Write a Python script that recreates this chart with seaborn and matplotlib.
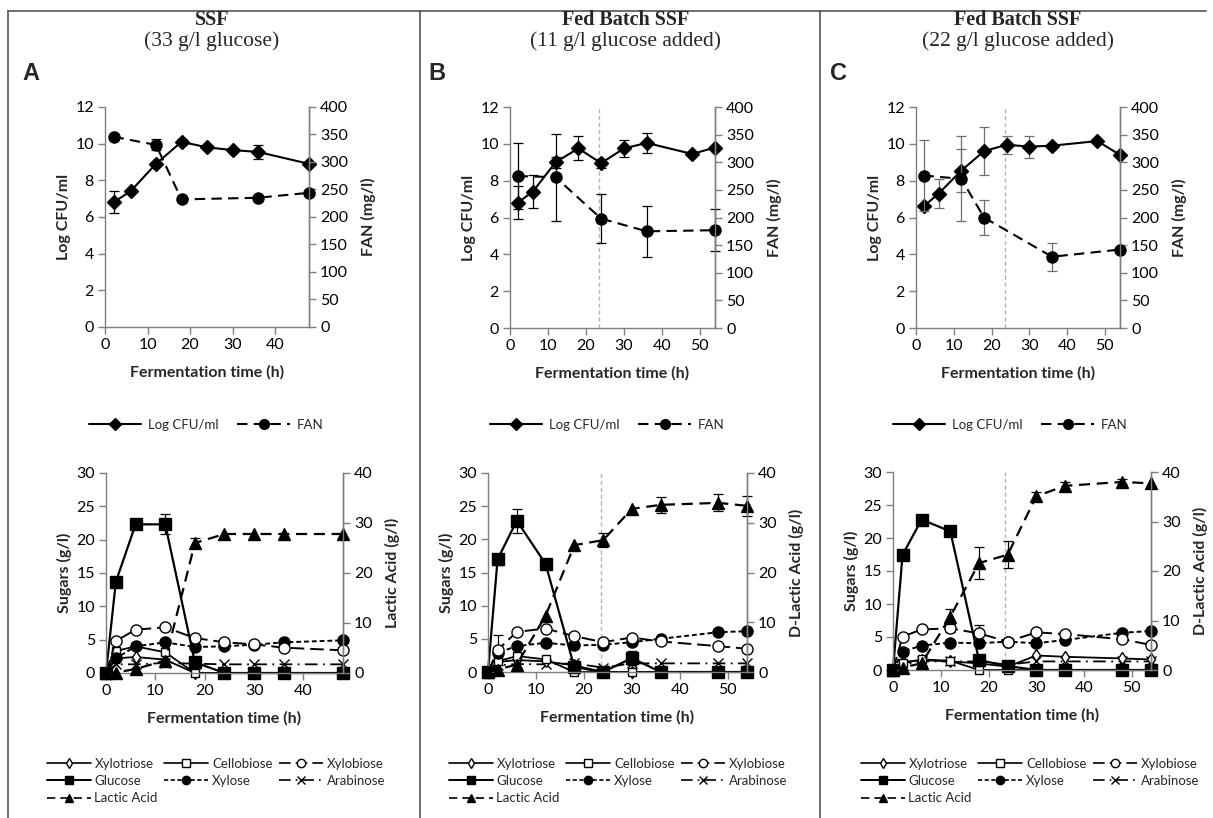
import matplotlib
matplotlib.use('Agg')
import matplotlib.pyplot as plt
from matplotlib.lines import Line2D
import seaborn as sns

sns.set_theme(style='white')
plt.rcParams['font.family'] = ['Lato', 'DejaVu Sans']

W, H = 1213, 818

# ---------------- data ----------------
panel_letters = ['A', 'B', 'C']
panel_titles = ['SSF', 'Fed Batch SSF', 'Fed Batch SSF']
panel_subtitles = ['(33 g/l glucose)', '(11 g/l glucose added)', '(22 g/l glucose added)']
acid_labels = ['Lactic Acid (g/l)', 'D-Lactic Acid (g/l)', 'D-Lactic Acid (g/l)']
x_max = [48, 54, 54]
feed_time = [None, 23.5, 23.5]

# top row: Log CFU/ml and FAN
cfu_time = [[2, 6, 12, 18, 24, 30, 36, 48],
            [2, 6, 12, 18, 24, 30, 36, 48, 54],
            [2, 6, 12, 18, 24, 30, 36, 48, 54]]
cfu = [[6.8, 7.4, 8.9, 10.1, 9.8, 9.65, 9.55, 8.9],
       [6.8, 7.4, 9.0, 9.75, 8.95, 9.75, 10.05, 9.45, 9.8],
       [6.6, 7.3, 8.55, 9.6, 9.95, 9.85, 9.9, 10.15, 9.4]]
cfu_err = [[0.6, 0, 0, 0.15, 0, 0, 0.4, 0],
           [0.9, 0.9, 0.3, 0.65, 0.25, 0.45, 0.55, 0, 0],
           [0.1, 0.8, 1.15, 1.3, 0.5, 0.6, 0, 0, 0]]
fan_time = [[2, 12, 18, 36, 48],
            [2, 12, 24, 36, 54],
            [2, 12, 18, 36, 54]]
fan = [[346, 331, 232, 235, 244],
       [275, 273, 198, 175, 177],
       [276, 270, 200, 129, 142]]
fan_err = [[0, 10, 0, 0, 0],
           [60, 79, 44, 46, 38],
           [64, 77, 31, 25, 0]]

# bottom row: sugars (g/l) and lactic acid (g/l)
sugar_time = [[0, 2, 6, 12, 18, 24, 30, 36, 48],
              [0, 2, 6, 12, 18, 24, 30, 36, 48, 54],
              [0, 2, 6, 12, 18, 24, 30, 36, 48, 54]]
xylotriose = [[0, 2.2, 2.4, 2.0, 0, 0, 0, 0, 0],
              [0, 1.5, 1.8, 1.6, 1.0, 0, 0, 0, 0, 0],
              [0, 1.2, 1.5, 1.3, 1.0, 0.5, 2.2, 2.0, 1.75, 1.6]]
cellobiose = [[0, 3.3, 4.0, 3.1, 0, 0, 0, 0, 0],
              [0, 1.6, 2.4, 1.9, 0, 0, 0, 0, 0, 0],
              [0, 1.0, 1.6, 1.4, 0, 0, 0, 0, 0, 0]]
xylobiose = [[0, 4.8, 6.5, 6.85, 5.25, 4.6, 4.3, 3.8, 3.4],
             [0, 3.3, 6.05, 6.55, 5.4, 4.5, 5.2, 4.6, 3.9, 3.5],
             [0, 5.05, 6.15, 6.3, 5.55, 4.3, 5.7, 5.45, 4.65, 3.8]]
glucose = [[0, 13.7, 22.3, 22.3, 1.6, 0, 0, 0, 0],
           [0, 17.0, 22.8, 16.3, 0.75, 0, 2.1, 0, 0, 0],
           [0, 17.45, 22.8, 21.0, 1.5, 0.6, 0, 0, 0, 0]]
xylose = [[0, 2.2, 4.0, 4.6, 3.9, 4.0, 4.25, 4.6, 4.9],
          [0, 2.9, 3.9, 4.4, 4.0, 4.1, 4.5, 5.0, 6.0, 6.15],
          [0, 2.8, 3.7, 4.15, 4.05, 4.3, 4.05, 4.55, 5.65, 5.9]]
arabinose = [[0, 1.3, 1.3, 1.5, 1.4, 1.3, 1.3, 1.3, 1.3],
             [0, 1.0, 1.2, 1.15, 1.3, 0.65, 1.3, 1.3, 1.3, 1.3],
             [0, 0.8, 1.3, 1.3, 1.3, 0.8, 1.3, 1.3, 1.3, 1.3]]
lactic = [[0, 0.1, 0.8, 2.5, 26.0, 27.8, 27.8, 27.8, 27.8],
          [0, 0.5, 1.5, 11.3, 25.5, 26.5, 32.8, 33.6, 34.0, 33.4],
          [0, 0.5, 1.35, 10.8, 21.6, 23.3, 35.1, 37.2, 38.0, 37.7]]
glucose_err = [[0, 0, 0, 1.5, 0, 0, 0, 0, 0],
               [0, 0.8, 1.8, 0, 0, 0, 1.0, 0, 0, 0],
               [0, 0, 0, 0, 0, 0, 0, 0, 0, 0]]
xylobiose_err = [[0, 0, 0, 0, 0, 0, 0, 0, 0],
                 [0, 2.3, 0, 0, 0, 0, 0, 0, 0, 0],
                 [0, 0, 0, 0.6, 1.3, 0, 0, 0, 0, 0]]
lactic_err = [[0, 0, 0, 0, 1.0, 0, 0, 0, 0],
              [0, 0, 0, 0, 0, 1.4, 0, 1.6, 1.7, 2.0],
              [0, 0, 0, 1.5, 3.2, 2.7, 0.8, 0.7, 0.5, 0]]

# axes boxes in pixels: left, right, top, bottom
top_boxes = [(105, 309, 107, 327), (510, 715, 107, 328), (916, 1120, 107, 328)]
bot_boxes = [(106, 343, 473, 673), (488, 747, 473, 672), (893, 1151, 472, 670)]
title_x = [212, 626, 1018]
top_leg_x = [206, 607, 1010]
bot_leg_x = [216, 618, 1030]

AXC = '#7f7f7f'
fig = plt.figure(figsize=(W / 100, H / 100), dpi=100)


def add_px_axes(box):
    l, r, t, b = box
    return fig.add_axes([l / W, 1 - b / H, (r - l) / W, (b - t) / H])


def style_pair(ax, ax2):
    for a in (ax, ax2):
        for s in a.spines.values():
            s.set_color(AXC)
            s.set_linewidth(1)
        a.spines['top'].set_visible(False)
        a.tick_params(direction='out', length=5, width=1, color=AXC,
                      labelsize=11.5, labelcolor='black', pad=3)
    ax2.spines['left'].set_visible(False)
    ax2.spines['bottom'].set_visible(False)
    ax.tick_params(bottom=True, left=True)
    ax2.tick_params(right=True)
    ax.grid(False)
    ax2.grid(False)


def draw(ax, x, y, marker, ls, ms, mfc='black', lw=1.4):
    sns.lineplot(x=x, y=y, ax=ax, color='black', marker=marker, linestyle=ls,
                 markersize=ms, markerfacecolor=mfc, markeredgecolor='black',
                 markeredgewidth=1.0, linewidth=lw, clip_on=False,
                 legend=False, errorbar=None)


def errs(ax, x, y, e, color='black'):
    xs = [a for a, v in zip(x, e) if v > 0]
    ys = [b for b, v in zip(y, e) if v > 0]
    es = [v for v in e if v > 0]
    if xs:
        ax.errorbar(xs, ys, yerr=es, fmt='none', ecolor=color,
                    elinewidth=0.9, capsize=3.5, capthick=0.9, clip_on=False)


def axis_labels(ax, ax2, left, right):
    ax.set_xlabel('Fermentation time (h)', fontsize=11.5, fontweight='bold', labelpad=9)
    ax.set_ylabel(left, fontsize=11.5, fontweight='bold', labelpad=3)
    ax2.set_ylabel(right, fontsize=11.5, fontweight='bold', labelpad=9)


LONG = (0, (7, 3))
SHORT = (0, (2.5, 1.5))
DASH = (0, (5, 3))
DASHDOT = (0, (7, 3, 1, 3))

for i in range(3):
    # ---------- top row ----------
    ax = add_px_axes(top_boxes[i])
    ax2 = ax.twinx()
    style_pair(ax, ax2)
    ax.set_xlim(0, x_max[i])
    ax.set_ylim(0, 12)
    ax2.set_ylim(0, 400)
    ax.set_xticks(range(0, x_max[i] - 1, 10))
    ax.set_yticks(range(0, 13, 2))
    ax2.set_yticks(range(0, 401, 50))
    if feed_time[i]:
        ax.axvline(feed_time[i], color='#b5b5b5', lw=1, ls=(0, (3, 2)))
    ecol = 'black' if i < 2 else '#6e6e6e'
    errs(ax, cfu_time[i], cfu[i], cfu_err[i], ecol)
    errs(ax2, fan_time[i], fan[i], fan_err[i], ecol)
    draw(ax, cfu_time[i], cfu[i], 'D', '-', 7.5, lw=1.5)
    draw(ax2, fan_time[i], fan[i], 'o', DASH, 8, lw=1.5)
    axis_labels(ax, ax2, 'Log CFU/ml', 'FAN (mg/l)')
    top_handles = [Line2D([], [], color='black', marker='D', ms=6.5, lw=1.5),
                   Line2D([], [], color='black', marker='o', ms=7, lw=1.5, ls=DASH)]
    ax.legend(top_handles, ['Log CFU/ml', 'FAN'], loc='center', ncol=2,
              bbox_to_anchor=(top_leg_x[i] / W, 1 - 425 / H),
              bbox_transform=fig.transFigure, frameon=False, fontsize=9.5,
              handlelength=4.0, columnspacing=1.4, handletextpad=0.5)

    # ---------- bottom row ----------
    bx = add_px_axes(bot_boxes[i])
    bx2 = bx.twinx()
    style_pair(bx, bx2)
    bx.set_xlim(0, x_max[i])
    bx.set_ylim(0, 30)
    bx2.set_ylim(0, 40)
    bx.set_xticks(range(0, x_max[i] - 1, 10))
    bx.set_yticks(range(0, 31, 5))
    bx2.set_yticks(range(0, 41, 10))
    if feed_time[i]:
        bx.axvline(feed_time[i], color='#b5b5b5', lw=1, ls=(0, (3, 2)))
    t = sugar_time[i]
    errs(bx, t, glucose[i], glucose_err[i])
    errs(bx, t, xylobiose[i], xylobiose_err[i])
    errs(bx2, t, lactic[i], lactic_err[i])
    draw(bx, t, arabinose[i], 'x', DASHDOT, 7, lw=1.3)
    draw(bx, t, xylotriose[i], 'd', '-', 6, mfc='white', lw=1.3)
    draw(bx, t, cellobiose[i], 's', '-', 6, mfc='white', lw=1.3)
    draw(bx, t, xylose[i], 'o', SHORT, 8, lw=1.4)
    draw(bx, t, xylobiose[i], 'o', LONG, 8, mfc='white', lw=1.4)
    draw(bx, t, glucose[i], 's', '-', 8, lw=1.6)
    draw(bx2, t, lactic[i], '^', DASH, 8, lw=1.6)
    axis_labels(bx, bx2, 'Sugars (g/l)', acid_labels[i])

    hs = {
        'Xylotriose': Line2D([], [], color='black', marker='d', ms=5, mfc='white', lw=1.2),
        'Cellobiose': Line2D([], [], color='black', marker='s', ms=6, mfc='white', lw=1.2),
        'Xylobiose': Line2D([], [], color='black', marker='o', ms=6, mfc='white', lw=1.2, ls=LONG),
        'Glucose': Line2D([], [], color='black', marker='s', ms=6, lw=1.4),
        'Xylose': Line2D([], [], color='black', marker='o', ms=6, lw=1.2, ls=SHORT),
        'Arabinose': Line2D([], [], color='black', marker='x', ms=6, lw=1.2, ls=DASHDOT),
        'Lactic Acid': Line2D([], [], color='black', marker='^', ms=6, lw=1.2, ls=DASH),
    }
    order = ['Xylotriose', 'Glucose', 'Lactic Acid', 'Cellobiose', 'Xylose',
             'Xylobiose', 'Arabinose']
    bx.legend([hs[k] for k in order], order, loc='center', ncol=3,
              bbox_to_anchor=(bot_leg_x[i] / W, 1 - 781 / H),
              bbox_transform=fig.transFigure, frameon=False, fontsize=9.5,
              handlelength=3.3, columnspacing=0.5, handletextpad=0.3,
              labelspacing=0.4)

    # ---------- titles ----------
    fig.text(title_x[i] / W, 1 - 20 / H, panel_titles[i], ha='center', va='center',
             family='Liberation Serif', fontweight='bold', fontsize=14.5)
    fig.text(title_x[i] / W, 1 - 41 / H, panel_subtitles[i], ha='center', va='center',
             family='Liberation Serif', fontsize=15.5)
    fig.text([22, 428, 830][i] / W, 1 - 73 / H, panel_letters[i], ha='left', va='center',
             family='Liberation Sans', fontweight='bold', fontsize=17)

# panel frame
frame = '#555555'
for (x0, y0, x1, y1) in [(8, 11, 1206, 11), (8, 11, 8, 818), (420, 11, 420, 818),
                         (820, 11, 820, 818)]:
    fig.add_artist(Line2D([x0 / W, x1 / W], [1 - y0 / H, 1 - y1 / H],
                          transform=fig.transFigure, color=frame, lw=1.2))

fig.savefig('out.png', dpi=100, facecolor='white')
